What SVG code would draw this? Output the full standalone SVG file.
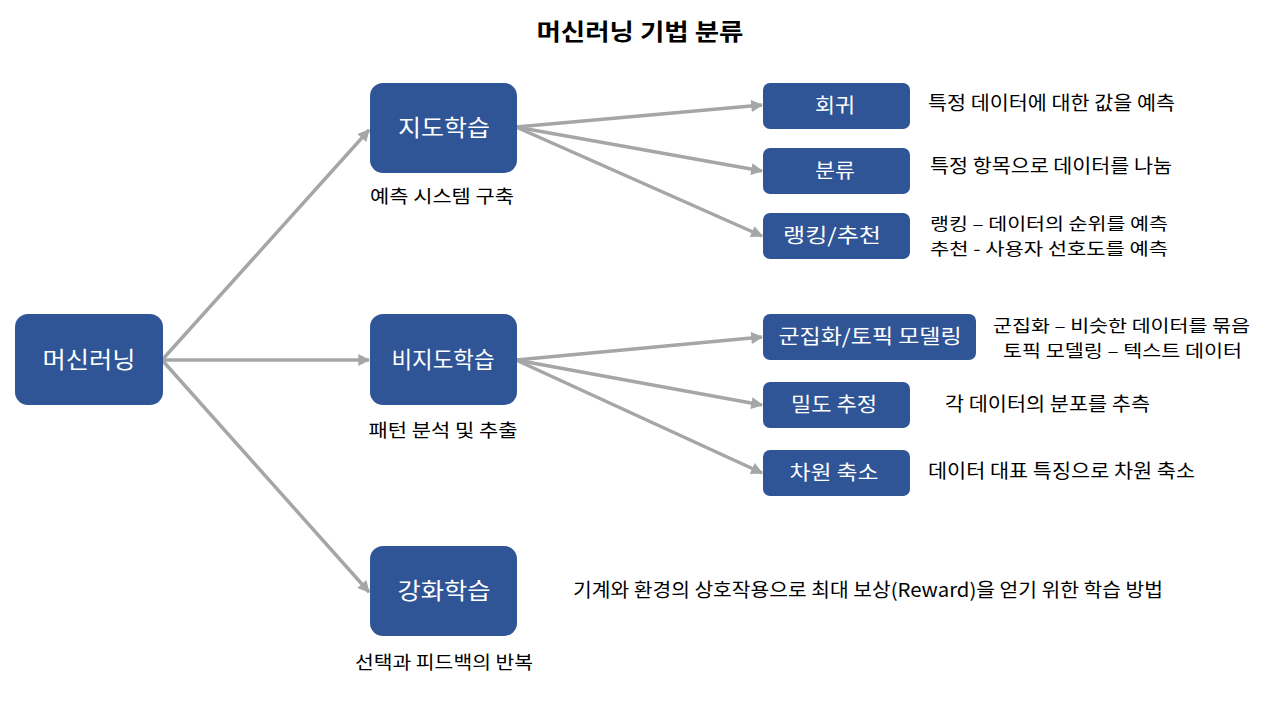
<svg xmlns="http://www.w3.org/2000/svg" width="1280" height="720" viewBox="0 0 1280 720">
<style>
text{font-family:"Noto Sans CJK KR","Noto Sans",sans-serif;}
.title{font-size:23px;font-weight:bold;fill:#000;text-anchor:middle;}
.big rect,.small rect{fill:#2f5597;}
.big text{font-size:23px;fill:#fff;text-anchor:middle;}
.small text{font-size:20px;fill:#fff;text-anchor:middle;}
.sub{font-size:18px;fill:#000;text-anchor:middle;}
.desc{font-size:19px;fill:#000;}
.desc2{font-size:17px;fill:#000;}
.conn line{stroke:#a6a6a6;stroke-width:3.5;marker-end:url(#ah);}
</style>
<defs>
<marker id="ah" viewBox="0 0 10 10" refX="9" refY="5" markerWidth="4" markerHeight="3.4" orient="auto">
<path d="M0,0 L10,5 L0,10 z" fill="#a6a6a6"/>
</marker>
</defs>
<rect width="1280" height="720" fill="#fff"/>
<text class="title" x="640" y="40" textLength="207" lengthAdjust="spacingAndGlyphs">머신러닝 기법 분류</text>

<g class="conn" id="connectors">
<line x1="162" y1="360" x2="369" y2="130"/>
<line x1="162" y1="360" x2="369" y2="360"/>
<line x1="162" y1="360" x2="369" y2="592"/>
<line x1="516" y1="127" x2="762" y2="105"/>
<line x1="516" y1="127" x2="762" y2="171"/>
<line x1="516" y1="127" x2="762" y2="236"/>
<line x1="516" y1="360" x2="762" y2="337"/>
<line x1="516" y1="360" x2="762" y2="405"/>
<line x1="516" y1="360" x2="762" y2="473"/>
</g>

<g class="big" id="ml"><rect x="15" y="314" width="148" height="91" rx="13"/><text x="89" y="368" textLength="93" lengthAdjust="spacingAndGlyphs">머신러닝</text></g>
<g class="big" id="supervised"><rect x="370" y="83" width="147" height="90" rx="13"/><text x="444" y="136" textLength="92" lengthAdjust="spacingAndGlyphs">지도학습</text></g>
<g class="big" id="unsupervised"><rect x="370" y="314" width="147" height="91" rx="13"/><text x="443" y="368" textLength="103" lengthAdjust="spacingAndGlyphs">비지도학습</text></g>
<g class="big" id="reinforcement"><rect x="370" y="546" width="147" height="90" rx="13"/><text x="444" y="599" textLength="93" lengthAdjust="spacingAndGlyphs">강화학습</text></g>

<text class="sub" x="442" y="203" textLength="144" lengthAdjust="spacingAndGlyphs">예측 시스템 구축</text>
<text class="sub" x="443" y="437" textLength="149" lengthAdjust="spacingAndGlyphs">패턴 분석 및 추출</text>
<text class="sub" x="444" y="669" textLength="178" lengthAdjust="spacingAndGlyphs">선택과 피드백의 반복</text>

<g class="small" id="regression"><rect x="763" y="83" width="147" height="46" rx="7"/><text x="835" y="113" textLength="40" lengthAdjust="spacingAndGlyphs">회귀</text></g>
<g class="small" id="classification"><rect x="763" y="148" width="147" height="46" rx="7"/><text x="835" y="178" textLength="40" lengthAdjust="spacingAndGlyphs">분류</text></g>
<g class="small" id="ranking"><rect x="763" y="213" width="147" height="46" rx="7"/><text x="832" y="243" textLength="98" lengthAdjust="spacingAndGlyphs">랭킹/추천</text></g>
<g class="small" id="clustering"><rect x="763" y="314" width="213" height="46" rx="7"/><text x="870" y="344" textLength="183" lengthAdjust="spacingAndGlyphs">군집화/토픽 모델링</text></g>
<g class="small" id="density"><rect x="763" y="382" width="147" height="46" rx="7"/><text x="834" y="412" textLength="86" lengthAdjust="spacingAndGlyphs">밀도 추정</text></g>
<g class="small" id="dimred"><rect x="763" y="450" width="147" height="46" rx="7"/><text x="834" y="480" textLength="89" lengthAdjust="spacingAndGlyphs">차원 축소</text></g>

<text class="desc" x="928" y="110" textLength="247" lengthAdjust="spacingAndGlyphs">특정 데이터에 대한 값을 예측</text>
<text class="desc" x="930" y="173" textLength="242" lengthAdjust="spacingAndGlyphs">특정 항목으로 데이터를 나눔</text>
<text class="desc2" x="930" y="230" textLength="238" lengthAdjust="spacingAndGlyphs">랭킹 – 데이터의 순위를 예측</text>
<text class="desc2" x="930" y="255" textLength="238" lengthAdjust="spacingAndGlyphs">추천 - 사용자 선호도를 예측</text>
<text class="desc2" x="993" y="332" textLength="257" lengthAdjust="spacingAndGlyphs">군집화 – 비슷한 데이터를 묶음</text>
<text class="desc2" x="1003" y="357" textLength="239" lengthAdjust="spacingAndGlyphs">토픽 모델링 – 텍스트 데이터</text>
<text class="desc" x="945" y="411" textLength="205" lengthAdjust="spacingAndGlyphs">각 데이터의 분포를 추측</text>
<text class="desc" x="928" y="478" textLength="267" lengthAdjust="spacingAndGlyphs">데이터 대표 특징으로 차원 축소</text>
<text class="desc" x="573" y="597" textLength="590" lengthAdjust="spacingAndGlyphs">기계와 환경의 상호작용으로 최대 보상(Reward)을 얻기 위한 학습 방법</text>
</svg>
